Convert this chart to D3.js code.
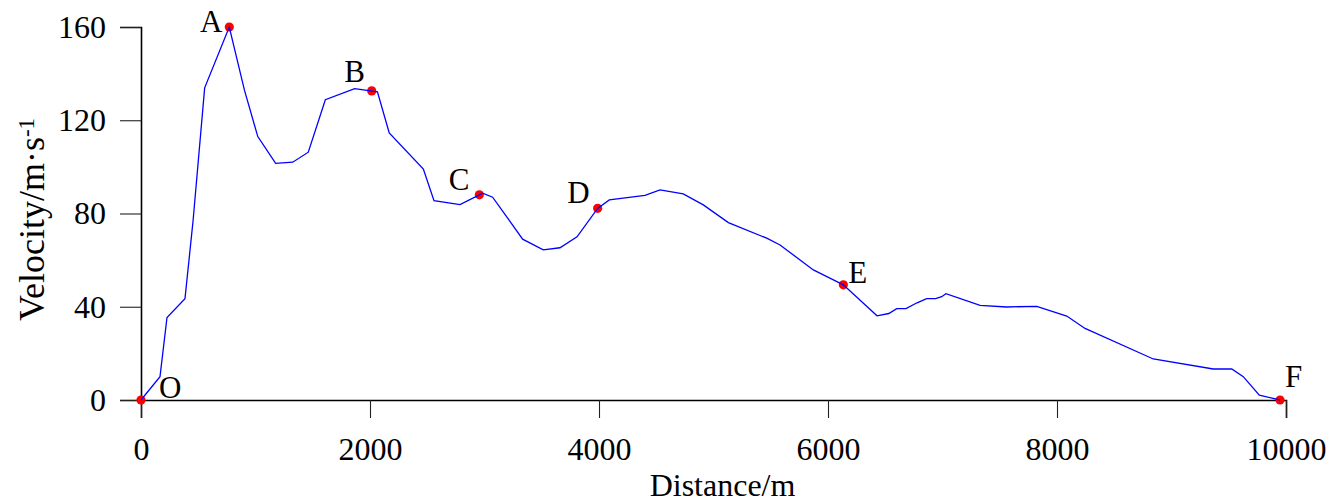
<!DOCTYPE html>
<html lang="en">
<head>
<meta charset="UTF-8">
<title>Velocity vs Distance</title>
<script src="https://cdn.jsdelivr.net/npm/d3@7/dist/d3.min.js"></script>
<style>
    body { margin: 0; background: #fff; }
    text { font-family: "Liberation Serif", "Times New Roman", serif; fill: #000; }
</style>
</head>
<body>
<div id="chart"></div>
<script>
    // distance (m) and velocity (m/s)
    const distance = [0, 166, 227, 384, 455, 556, 771, 904, 1020, 1176, 1325, 1461, 1610, 1866, 2065,
        2168, 2466, 2559, 2786, 2955, 2984, 3071, 3333, 3513, 3659, 3808, 3988, 4090, 4402, 4533,
        4736, 4911, 5130, 5465, 5581, 5872, 6047, 6134, 6428, 6531, 6600, 6681, 6778, 6862, 6940,
        6993, 7030, 7328, 7561, 7823, 8085, 8245, 8841, 9365, 9526, 9627, 9767, 9948];
    const velocity = [0, 10, 35.4, 43.4, 77, 133.9, 160, 132.8, 113, 101.5, 102, 106.3, 128.8, 133.6, 132.2,
        114.6, 99.1, 85.5, 83.8, 88, 88.7, 87, 69, 64.4, 65.3, 70, 82.2, 85.8, 87.8, 90.1,
        88.4, 83.7, 76.1, 69.4, 66.5, 55.8, 51.5, 49.4, 36.1, 37.1, 39.2, 39.2, 41.7, 43.5, 43.5,
        44.3, 45.6, 40.6, 39.9, 40.2, 36, 30.7, 17.6, 13.3, 13.3, 10, 2.1, 0];

    // marked points
    const markNames = ["O", "A", "B", "C", "D", "E", "F"];
    const markDistance = [0, 771, 2015, 2955, 3988, 6134, 9948];
    const markVelocity = [0, 160, 132.6, 88, 82.2, 49.4, 0];

    const xTicks = [0, 2000, 4000, 6000, 8000, 10000];
    const yTicks = [0, 40, 80, 120, 160];

    const width = 1335, height = 503;

    // label offsets from each marker (px)
    const labelOffset = {
        O: [18, -2, "start"], A: [-7, 5, "end"], B: [-17, -9, "middle"], C: [-10, -5, "end"],
        D: [-8, -5, "end"], E: [5, -2, "start"], F: [5, -13, "start"]
    };

    const x = d3.scaleLinear().domain([0, 10000]).range([141, 1286]);
    const y = d3.scaleLinear().domain([0, 160]).range([400, 27]);

    const svg = d3.select("#chart").append("svg")
        .attr("width", width)
        .attr("height", height);

    const xAxis = svg.append("g")
        .attr("transform", `translate(0,${y(0)})`)
        .call(d3.axisBottom(x).tickValues(xTicks).tickFormat(d3.format("d")).tickSizeOuter(0).tickSize(18).tickPadding(19));

    const yAxis = svg.append("g")
        .attr("transform", `translate(${x(0)},0)`)
        .call(d3.axisLeft(y).tickValues(yTicks).tickSizeOuter(0).tickSize(21).tickPadding(14));

    [xAxis, yAxis].forEach(g => {
        g.select(".domain").attr("stroke", "#000").attr("stroke-width", 1.6);
        g.selectAll(".tick line").attr("stroke", "#222").attr("stroke-width", 1.1);
        g.selectAll(".tick text")
            .attr("fill", "#000")
            .style("font-family", "'Liberation Serif', 'Times New Roman', serif")
            .style("font-size", "32px");
    });

    // axis titles
    svg.append("text")
        .attr("x", (x(0) + x(10000)) / 2 + 9)
        .attr("y", 496)
        .attr("text-anchor", "middle")
        .style("font-size", "32px")
        .text("Distance/m");

    const yTitle = svg.append("text")
        .attr("transform", `translate(44,${(y(0) + y(160)) / 2 + 6}) rotate(-90)`)
        .attr("text-anchor", "middle")
        .style("font-size", "36px");
    yTitle.append("tspan").text("Velocity/m·s");
    yTitle.append("tspan").attr("dy", "-0.45em").style("font-size", "23px").text("-1");

    const marks = markNames.map((n, i) => ({ name: n, d: markDistance[i], v: markVelocity[i] }));

    // red markers under the line
    svg.append("g").selectAll("circle")
        .data(marks)
        .join("circle")
        .attr("cx", d => x(d.d))
        .attr("cy", d => y(d.v))
        .attr("r", 4.6)
        .attr("fill", "#ff0000");

    const line = d3.line()
        .x((d, i) => x(distance[i]))
        .y(d => y(d));

    svg.append("path")
        .datum(velocity)
        .attr("fill", "none")
        .attr("stroke", "#0000ff")
        .attr("stroke-width", 1.3)
        .attr("d", line);

    svg.append("g").selectAll("text")
        .data(marks)
        .join("text")
        .attr("x", d => x(d.d) + labelOffset[d.name][0])
        .attr("y", d => y(d.v) + labelOffset[d.name][1])
        .attr("text-anchor", d => labelOffset[d.name][2])
        .style("font-size", "31px")
        .text(d => d.name);
</script>
</body>
</html>
